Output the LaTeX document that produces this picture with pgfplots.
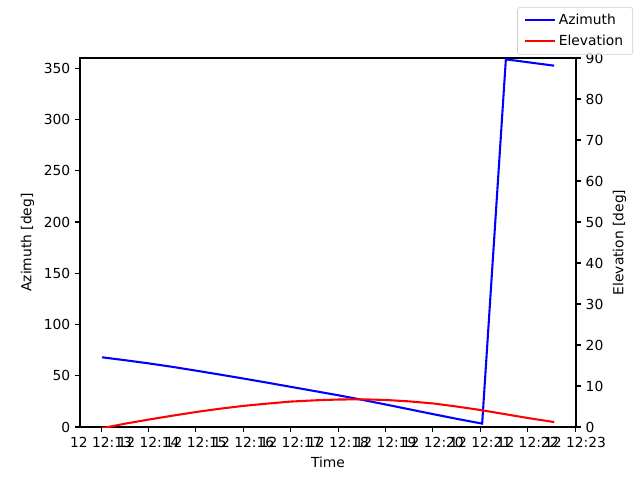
\documentclass[border=0pt]{standalone}
\usepackage{fontspec}
\setmainfont{DejaVu Sans}
\usepackage{pgfplots}
\pgfplotsset{compat=1.18}
\begin{document}
\begin{tikzpicture}
\pgfplotsset{
  common/.style={
    scale only axis, width=4.96in, height=3.69in,
    xmin=-0.445, xmax=10.02,
    tick align=outside, major tick length=3.5pt,
    every tick/.style={black, line width=0.8pt},
    axis line style={line width=0.8pt},
    /pgf/number format/assume math mode=true,
    tick label style={font=\fontsize{10}{12}\selectfont},
    label style={font=\fontsize{10}{12}\selectfont},
  }
}
\begin{axis}[common,
  ymin=0, ymax=360,
  xtick={0,...,10},
  xticklabels={12 12:13,12 12:14,12 12:15,12 12:16,12 12:17,12 12:18,12 12:19,12 12:20,12 12:21,12 12:22,12 12:23},
  ytick={0,50,...,350},
  xtick pos=bottom, ytick pos=left,
  xlabel={Time}, ylabel={Azimuth [deg]},
]
\addplot[blue, line width=1.5pt, no marks] coordinates {
(0.02,68.0) (0.5,65.2) (1,62.1) (1.5,58.7) (2,55.0) (2.5,51.2) (3,47.3) (3.5,43.3)
(4,39.2) (4.5,35.1) (5,31.0) (5.5,26.6) (6,22.0) (6.5,17.3) (7,12.6) (7.5,8.0)
(8.04,3.3) (8.54,358.7) (9.56,352.5)
};
\end{axis}
\begin{axis}[common,
  ymin=0, ymax=90,
  axis x line=none, axis y line*=right,
  ytick={0,10,...,90},
  ylabel={Elevation [deg]},
  legend style={at={(1.115,1.138)}, anchor=north east, draw=black!20, rounded corners=2pt,
    font=\fontsize{10}{12}\selectfont, fill=white, fill opacity=0.8, text opacity=1,
    row sep=2pt, inner xsep=5pt, inner ysep=3pt},
  legend image code/.code={\draw[#1, line width=1.5pt] (0cm,0.02cm) -- (0.75cm,0.02cm);},
  legend cell align=left,
]
\addlegendimage{blue}
\addlegendentry{Azimuth}
\addplot[red, line width=1.5pt, no marks] coordinates {
(0.02,-0.3) (0.5,0.8) (1,1.8) (1.5,2.75) (2,3.65) (2.5,4.45) (3,5.15) (3.5,5.7)
(4,6.2) (4.5,6.5) (5,6.7) (5.5,6.75) (6,6.6) (6.5,6.25) (7,5.75) (7.5,5.0)
(8,4.15) (8.54,3.1) (9,2.2) (9.56,1.2)
};
\addlegendentry{Elevation}
\end{axis}
\path[use as bounding box] (-0.80in,-0.53in) rectangle (5.60in,4.27in);
\end{tikzpicture}
\end{document}
